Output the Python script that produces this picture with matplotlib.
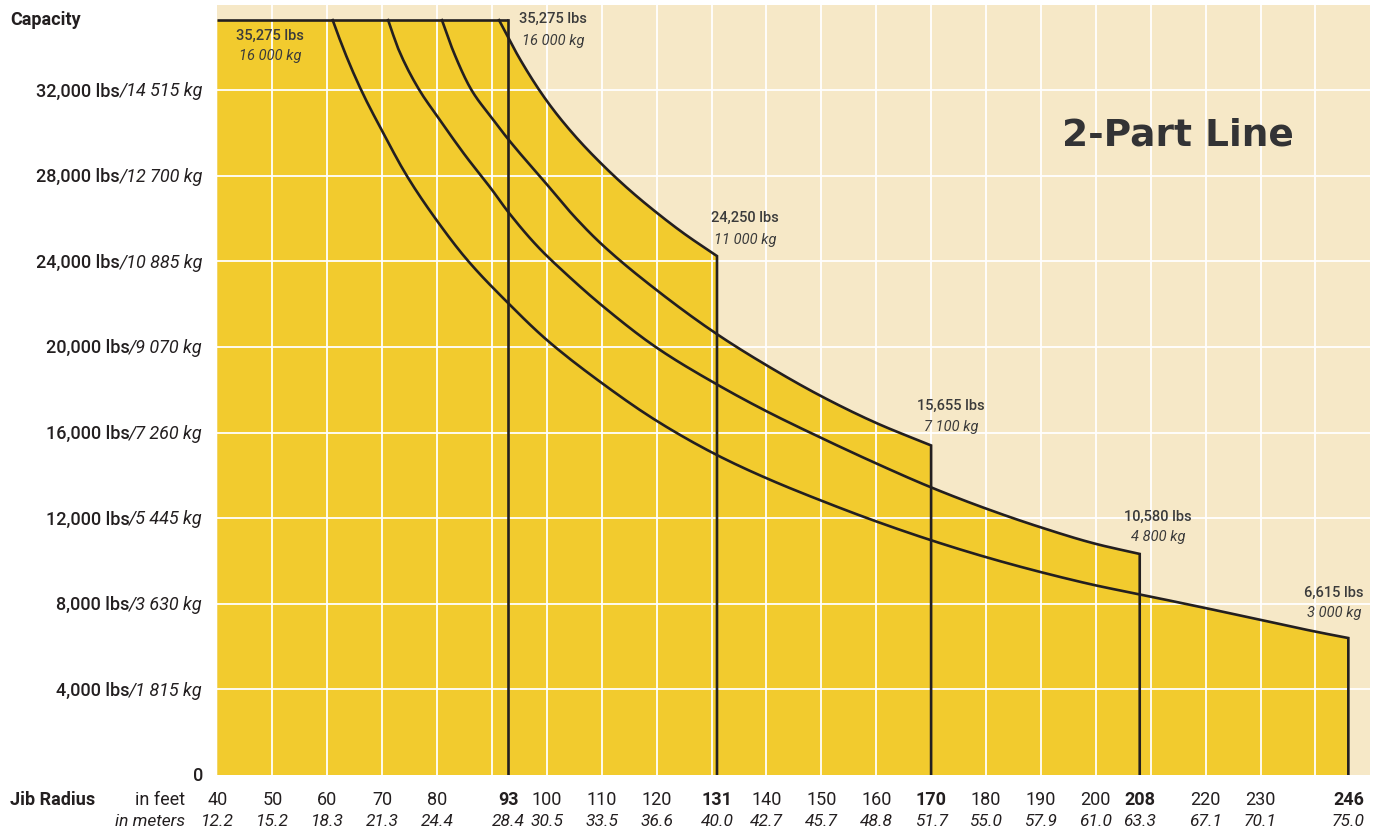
import numpy as np
import matplotlib
matplotlib.use("Agg")
import matplotlib.pyplot as plt
import matplotlib.transforms as mtransforms

# capacity (lbs) along each jib's load curve
max_lbs = 35275
jib_lengths = [93, 131, 170, 208, 246]

curve_131_ft = [91.3, 93, 95, 100, 105, 110, 115, 120, 125, 131]
curve_131_lbs = [35275, 34450, 33500, 31500, 29900, 28550, 27350, 26280, 25300, 24250]

curve_170_ft = [80.9, 83, 86.3, 90, 93, 100, 105, 110, 120, 131, 140, 150, 160, 170]
curve_170_lbs = [35275, 33800, 32000, 30700, 29700, 27600, 26100, 24800, 22660, 20600,
                 19150, 17700, 16450, 15400]

curve_208_ft = [71.1, 73, 76.8, 80, 85, 90, 93, 98.5, 104, 110, 120, 131, 140, 150,
                160, 170, 180, 190, 200, 208]
curve_208_lbs = [35275, 33900, 32000, 30800, 29000, 27350, 26300, 24650, 23300, 21950,
                 19970, 18250, 17000, 15750, 14560, 13440, 12450, 11570, 10800, 10330]

curve_246_ft = [61, 63, 66.2, 70, 74.5, 80, 85.4, 93, 100, 110, 120, 131, 140, 150,
                160, 170, 180, 190, 200, 208, 220, 230, 240, 246]
curve_246_lbs = [35275, 33900, 32000, 30100, 28000, 25900, 24100, 22040, 20330, 18320,
                 16550, 14950, 13870, 12820, 11850, 10970, 10180, 9480, 8860, 8440,
                 7800, 7250, 6700, 6400]

# axis labels
ytick_vals = [0, 4000, 8000, 12000, 16000, 20000, 24000, 28000, 32000]
ytick_lbs = ["0", "4,000 lbs", "8,000 lbs", "12,000 lbs", "16,000 lbs", "20,000 lbs",
             "24,000 lbs", "28,000 lbs", "32,000 lbs"]
ytick_kg = ["", "/1 815 kg", "/3 630 kg", "/5 445 kg", "/7 260 kg", "/9 070 kg",
            "/10 885 kg", "/12 700 kg", "/14 515 kg"]

xtick_ft = [40, 50, 60, 70, 80, 93, 100, 110, 120, 131, 140, 150, 160, 170, 180, 190,
            200, 208, 220, 230, 246]
xtick_m = ["12.2", "15.2", "18.3", "21.3", "24.4", "28.4", "30.5", "33.5", "36.6", "40.0",
           "42.7", "45.7", "48.8", "51.7", "55.0", "57.9", "61.0", "63.3", "67.1", "70.1",
           "75.0"]

# callouts: x (ft), y of lbs line, y of kg line
callout_lbs = ["35,275 lbs", "35,275 lbs", "24,250 lbs", "15,655 lbs", "10,580 lbs", "6,615 lbs"]
callout_kg = ["16 000 kg", "16 000 kg", "11 000 kg", "7 100 kg", "4 800 kg", "3 000 kg"]
callout_x = [49.6, 101.1, 136.1, 173.6, 211.3, 243.4]
callout_y1 = [34550, 35350, 26050, 17230, 12080, 8500]
callout_y2 = [33600, 34300, 25000, 16280, 11140, 7580]

YELLOW = "#F2CB2E"
BEIGE = "#F6E8C7"
INK = "#231F20"
GREY = "#3B3B3B"

plt.rcParams["font.family"] = ["Roboto", "DejaVu Sans"]


def smooth(xs, ys, n=150):
    # monotone cubic (pchip) so the drawn line bends smoothly through the read points
    x = np.asarray(xs, float)
    y = np.asarray(ys, float)
    h = np.diff(x)
    d = np.diff(y) / h
    m = np.zeros_like(x)
    m[0], m[-1] = d[0], d[-1]
    for k in range(1, len(x) - 1):
        if d[k - 1] * d[k] > 0:
            w1 = 2 * h[k] + h[k - 1]
            w2 = h[k] + 2 * h[k - 1]
            m[k] = (w1 + w2) / (w1 / d[k - 1] + w2 / d[k])
    xx = np.linspace(x[0], x[-1], n)
    i = np.clip(np.searchsorted(x, xx) - 1, 0, len(x) - 2)
    t = (xx - x[i]) / h[i]
    h00 = 2 * t**3 - 3 * t**2 + 1
    h10 = t**3 - 2 * t**2 + t
    h01 = -2 * t**3 + 3 * t**2
    h11 = t**3 - t**2
    yy = h00 * y[i] + h10 * h[i] * m[i] + h01 * y[i + 1] + h11 * h[i] * m[i + 1]
    return xx, yy


W, H = 1374, 834
fig = plt.figure(figsize=(W / 100, H / 100), dpi=100)
ax = fig.add_axes([217.4 / W, 59 / H, 1152.9 / W, 770.4 / H])
ax.set_xlim(40, 250)
ax.set_ylim(0, 36000)
ax.set_facecolor(BEIGE)
for s in ax.spines.values():
    s.set_visible(False)
ax.set_xticks([])
ax.set_yticks([])

curves = [smooth(curve_131_ft, curve_131_lbs), smooth(curve_170_ft, curve_170_lbs),
          smooth(curve_208_ft, curve_208_lbs), smooth(curve_246_ft, curve_246_lbs)]

# outer envelope for the yellow fill
env_x = [40, jib_lengths[0]]
env_y = [max_lbs, max_lbs]
lo = jib_lengths[0]
for (cx, cy), hi in zip(curves, jib_lengths[1:]):
    env_x.append(lo)
    env_y.append(np.interp(lo, cx, cy))
    keep = (cx > lo) & (cx <= hi)
    env_x.extend(cx[keep])
    env_y.extend(cy[keep])
    lo = hi
env_x += [jib_lengths[-1], 40]
env_y += [0, 0]
ax.fill(env_x, env_y, color=YELLOW, lw=0, zorder=1)

# white grid
for gx in range(50, 250, 10):
    ax.axvline(gx, color="white", lw=1.3, zorder=2)
for gy in ytick_vals[1:]:
    ax.axhline(gy, color="white", lw=1.3, zorder=2)

# black lines
lw = 1.9
ax.plot([40, jib_lengths[0]], [max_lbs, max_lbs], color=INK, lw=lw, zorder=3,
        solid_capstyle="butt")
ax.plot([jib_lengths[0]] * 2, [max_lbs, 0], color=INK, lw=lw, zorder=3,
        solid_joinstyle="miter")
for (cx, cy), jl in zip(curves, jib_lengths[1:]):
    ax.plot(list(cx) + [jl], list(cy) + [0], color=INK, lw=lw, zorder=3,
            solid_joinstyle="miter")

# callouts
for x, t1, t2, y1, y2 in zip(callout_x, callout_lbs, callout_kg, callout_y1, callout_y2):
    ax.text(x, y1, t1, ha="center", va="center", fontsize=10.5, fontweight="medium",
            color=GREY, zorder=4)
    ax.text(x, y2, t2, ha="center", va="center", fontsize=10.5, style="italic",
            color=GREY, zorder=4)

ax.text(215, 29860, "2-Part Line", ha="center", va="center", fontsize=27,
        family="DejaVu Sans", fontweight="bold", color="#333335", zorder=4)

# y tick labels: upright lbs then italic kg
ytrans = mtransforms.blended_transform_factory(fig.transFigure, ax.transData)
for val, t_lbs, t_kg in zip(ytick_vals, ytick_lbs, ytick_kg):
    kg = ax.annotate(t_kg, xy=(203 / W, val), xycoords=ytrans, xytext=(0, -4.5),
                     textcoords="offset points", ha="right", va="baseline",
                     fontsize=13, style="italic", color=INK, annotation_clip=False)
    ax.annotate(t_lbs, xy=(0, val), xycoords=(kg, ytrans), xytext=(0, -4.5),
                textcoords="offset points", ha="right", va="baseline",
                fontsize=13, fontweight="medium", color=INK, annotation_clip=False)

fig.text(10 / W, 1 - 20 / H, "Capacity", ha="left", va="center", fontsize=13,
         fontweight="bold", color=INK)

# x tick labels, two rows
xtrans = mtransforms.blended_transform_factory(ax.transData, fig.transFigure)
for ft, m in zip(xtick_ft, xtick_m):
    bold = ft in jib_lengths
    ax.text(ft, 1 - 800 / H, str(ft), transform=xtrans, ha="center", va="center",
            fontsize=13, fontweight="bold" if bold else "normal", color=INK)
    ax.text(ft, 1 - 822 / H, m, transform=xtrans, ha="center", va="center",
            fontsize=12.5, style="italic", color=INK)

fig.text(10 / W, 1 - 800 / H, "Jib Radius", ha="left", va="center", fontsize=13,
         fontweight="bold", color=INK)
fig.text(185 / W, 1 - 800 / H, "in feet", ha="right", va="center", fontsize=13,
         color=INK)
fig.text(185 / W, 1 - 822 / H, "in meters", ha="right", va="center", fontsize=12.5,
         style="italic", color=INK)

fig.savefig("out.png", dpi=100, facecolor="white")
